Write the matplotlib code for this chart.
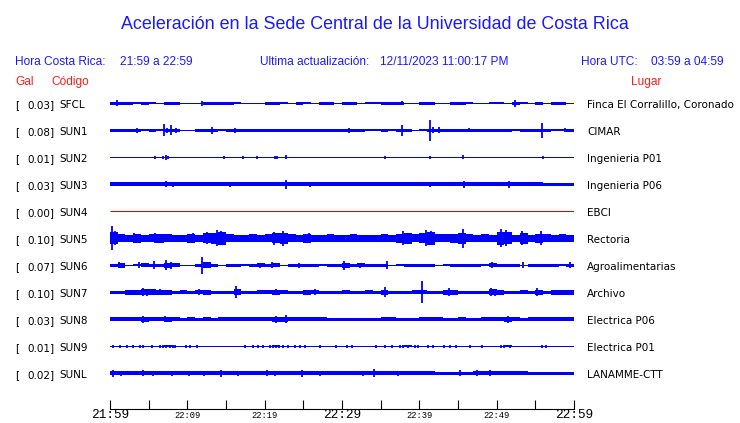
import numpy as np
import matplotlib
matplotlib.use("Agg")
import matplotlib.pyplot as plt

W, H = 740, 423

# ---------------- data ----------------
codes = ["SFCL", "SUN1", "SUN2", "SUN3", "SUN4", "SUN5", "SUN6", "SUN7", "SUN8", "SUN9", "SUNL"]
gal = ["0.03", "0.08", "0.01", "0.03", "0.00", "0.10", "0.07", "0.10", "0.03", "0.01", "0.02"]
places = ["Finca El Corralillo, Coronado", "CIMAR", "Ingenieria P01", "Ingenieria P06", "EBCI",
          "Rectoria", "Agroalimentarias", "Archivo", "Electrica P06", "Electrica P01", "LANAMME-CTT"]
trace_colors = ["#0000ff", "#0000ff", "#0000ff", "#0000ff", "#e00000", "#0000ff",
                "#0000ff", "#0000ff", "#0000ff", "#0000ff", "#0000ff"]

minutes = np.arange(61)  # 21:59 .. 22:59
tick_minutes = np.arange(0, 61, 5)
tick_labels = ["21:59", "", "22:09", "", "22:19", "", "22:29", "", "22:39", "", "22:49", "", "22:59"]
big_ticks = ["21:59", "22:29", "22:59"]

# per-minute envelope half-amplitude (px)
env_SFCL = [1.5,1.5,1.5,1.0,1.5,1.0,0.5,1.5,1.5,0.5, 0.8,0.5,1.5,1.5,1.2,1.2,1.0,0.5,0.8,0.5,
            1.2,1.2,1.0,0.5,1.2,1.0,0.5,1.2,1.2,0.8, 1.2,1.2,0.5,1.0,1.0,1.5,1.5,1.2,0.5,0.8,
            1.2,1.2,0.8,0.5,1.5,1.5,1.0,0.5,0.8,1.0, 1.0,0.5,1.5,1.0,0.5,1.2,0.5,1.2,1.2,0.5]
env_SUN1 = [1.5,1.5,1.5,1.2,1.0,1.2,1.0,1.5,1.5,0.8, 0.5,1.5,1.5,1.2,1.0,1.5,1.5,1.2,1.5,1.5,
            1.2,1.5,1.5,1.5,1.2,1.5,1.2,1.5,1.5,1.2, 1.5,1.5,1.5,1.0,1.0,1.2,1.0,1.5,1.5,0.8,
            1.0,1.5,1.2,1.2,1.5,1.2,1.5,1.2,1.5,1.5, 1.5,1.5,1.0,1.2,1.5,1.5,1.5,1.0,1.0,1.2]
env_SUN2 = [0.5,0.5,0.5,0.5,0.5,0.5,0.5,0.5,0.5,0.5, 0.5,0.5,0.5,0.5,0.5,0.5,0.5,0.5,0.5,0.5,
            0.5,0.5,0.5,0.5,0.5,0.5,0.5,0.5,0.5,0.5, 0.5,0.5,0.5,0.5,0.5,0.5,0.5,0.5,0.5,0.5,
            0.5,0.5,0.5,0.5,0.5,0.5,0.5,0.5,0.5,0.5, 0.5,0.5,0.5,0.5,0.5,0.5,0.5,0.5,0.5,0.5]
env_SUN3 = [2.0,2.0,2.0,2.0,2.0,2.0,2.0,2.0,2.0,2.0, 2.0,2.0,2.0,2.0,2.0,2.0,2.0,2.0,2.0,2.0,
            2.0,2.0,2.0,2.0,2.0,2.0,2.0,2.0,2.0,2.0, 2.0,2.0,2.0,2.0,2.0,2.0,2.0,2.0,2.0,2.0,
            2.0,2.0,2.0,2.0,2.0,2.0,2.0,2.0,2.0,2.0, 2.0,2.0,2.0,2.0,2.0,2.0,1.5,1.5,1.5,1.5]
env_SUN4 = [0.0,0.0,0.0,0.0,0.0,0.0,0.0,0.0,0.0,0.0, 0.0,0.0,0.0,0.0,0.0,0.0,0.0,0.0,0.0,0.0,
            0.0,0.0,0.0,0.0,0.0,0.0,0.0,0.0,0.0,0.0, 0.0,0.0,0.0,0.0,0.0,0.0,0.0,0.0,0.0,0.0,
            0.0,0.0,0.0,0.0,0.0,0.0,0.0,0.0,0.0,0.0, 0.0,0.0,0.0,0.0,0.0,0.0,0.0,0.0,0.0,0.0]
env_SUN5 = [6.0,4.0,3.5,4.5,3.5,4.0,4.5,4.0,3.5,3.5, 4.5,3.5,5.0,5.5,6.5,4.0,3.5,3.5,4.0,3.5,
            4.0,5.0,5.5,4.0,3.5,4.5,3.5,3.5,4.0,3.5, 3.5,4.0,3.5,3.5,3.5,4.0,3.5,4.5,5.5,4.0,
            5.0,6.5,4.0,4.0,4.5,5.5,4.0,3.5,4.0,3.5, 6.5,6.0,3.5,5.5,3.5,4.5,4.0,3.5,4.0,3.5]
env_SUN6 = [1.5,2.5,0.8,1.0,2.0,1.5,1.5,2.5,2.0,0.8, 0.8,1.5,3.0,1.5,0.8,1.5,1.5,1.0,1.5,2.0,
            1.5,2.0,0.8,1.5,1.5,1.5,1.5,1.0,1.5,1.5, 2.5,1.5,2.0,1.5,1.5,1.5,0.8,1.0,1.5,1.5,
            1.5,1.5,0.8,1.0,1.5,1.5,1.5,1.5,1.0,2.0, 1.5,1.5,1.5,0.8,1.5,1.5,1.5,1.5,1.0,1.5]
env_SUN7 = [1.5,1.5,2.5,2.5,3.0,3.0,2.5,2.5,1.5,2.0, 1.5,2.0,2.5,1.5,1.5,1.5,3.0,1.5,1.5,2.0,
            2.0,2.5,2.0,1.5,1.5,2.5,2.0,1.5,1.5,1.5, 2.0,1.5,1.5,2.0,1.5,2.5,1.5,1.5,1.5,2.0,
            2.0,1.5,1.5,2.5,2.5,1.5,1.5,1.5,1.5,3.0, 2.5,1.5,1.5,2.0,1.5,2.5,1.5,2.5,2.5,2.5]
env_SUN8 = [2.0,2.0,2.0,2.0,2.5,2.0,2.0,2.5,2.0,1.5, 2.0,1.5,2.0,1.5,2.0,2.0,2.0,2.0,2.0,2.0,
            2.0,2.5,2.5,2.0,2.0,2.0,2.0,2.0,1.5,1.5, 1.5,1.5,1.5,1.5,1.5,2.0,2.0,1.5,1.5,1.5,
            2.0,2.0,2.0,1.5,1.5,2.0,1.5,1.5,2.0,2.0, 2.0,2.5,2.0,1.5,2.0,2.0,2.0,2.0,2.0,2.0]
env_SUN9 = [0.5,0.5,0.5,0.5,0.5,0.5,0.5,1.0,0.5,0.5, 0.5,0.5,0.5,0.5,0.5,0.5,0.5,0.5,0.5,0.5,
            0.5,1.0,0.5,0.5,0.5,0.5,0.5,0.5,0.5,0.5, 0.5,0.5,0.5,0.5,0.5,0.5,0.5,0.5,1.0,0.5,
            0.5,0.5,0.5,0.5,0.5,0.5,0.5,0.5,0.5,0.5, 0.5,1.0,0.5,0.5,0.5,0.5,0.5,0.5,0.5,0.5]
env_SUNL = [2.0,2.0,2.0,2.0,2.0,2.0,2.0,2.0,2.0,2.0, 2.0,2.0,2.0,2.0,2.0,2.0,2.0,2.0,2.0,2.0,
            2.0,2.0,2.0,2.0,2.0,2.0,2.0,2.0,2.0,2.0, 2.0,2.0,2.0,2.0,2.0,2.0,2.0,2.0,2.0,2.0,
            2.0,2.0,1.5,1.5,1.5,1.5,1.5,2.0,2.0,2.0, 2.0,2.0,2.0,2.0,1.5,1.5,1.5,1.5,1.5,1.5]

# peaks: (minute, half-amplitude px)
peaks_SFCL = [(0.9, 3.0), (11.9, 2.5), (37.8, 2.0), (52.4, 3.5)]
peaks_SUN1 = [(3.5, 2.5), (7.0, 6.0), (7.4, 2.5), (7.9, 5.0), (8.5, 2.5), (13.2, 3.5), (16.2, 2.2),
              (30.9, 2.5), (37.8, 5.5), (41.4, 10.5), (41.8, 3.0), (42.6, 3.0), (46.4, 2.0),
              (55.9, 7.5), (58.9, 2.0)]
peaks_SUN2 = [(5.8, 1.5), (6.9, 1.5), (7.2, 2.5), (7.5, 1.5), (14.7, 1.5), (17.2, 1.5), (19.0, 1.5),
              (21.3, 1.5), (21.6, 1.5), (22.7, 2.0), (35.5, 1.5), (41.4, 1.5), (45.7, 2.0), (56.0, 1.5)]
peaks_SUN3 = [(7.2, 3.0), (8.2, 2.5), (15.5, 2.5), (22.7, 4.5), (25.8, 2.5), (41.4, 2.5),
              (45.8, 3.5), (51.6, 3.5)]
peaks_SUN4 = []
peaks_SUN5 = [(0.3, 12.0), (0.6, 7.0), (3.1, 5.0), (5.8, 5.0), (10.7, 5.0), (12.5, 6.0), (13.9, 8.0),
              (14.3, 7.0), (21.2, 6.5), (22.4, 7.5), (25.7, 5.0), (37.9, 7.0), (40.9, 8.0),
              (41.5, 7.0), (45.6, 9.5), (50.6, 9.0), (51.2, 8.0), (53.3, 7.0), (55.7, 7.0)]
peaks_SUN6 = [(1.1, 3.0), (3.8, 3.0), (5.7, 4.0), (7.2, 5.0), (7.9, 3.5), (11.9, 8.5), (12.4, 3.0),
              (19.4, 2.5), (21.0, 3.0), (24.5, 2.5), (30.3, 4.5), (32.3, 2.5), (35.8, 4.0),
              (49.4, 3.0), (53.4, 3.0), (59.5, 3.0)]
peaks_SUN7 = [(4.3, 4.0), (4.8, 3.5), (6.5, 3.0), (11.5, 3.0), (16.3, 6.0), (21.5, 3.0), (26.5, 3.0),
              (35.6, 5.0), (40.3, 11.0), (43.8, 4.0), (49.3, 4.0), (49.8, 3.5), (55.2, 4.0)]
peaks_SUN8 = [(4.3, 3.5), (7.1, 3.0), (21.5, 3.5), (22.7, 4.0), (51.5, 3.5)]
peaks_SUN9 = [(0.4, 1.5), (1.3, 1.5), (2.2, 1.5), (3.0, 1.5), (3.9, 1.5), (4.3, 1.5), (5.4, 1.5),
              (6.5, 1.5), (6.9, 1.5), (7.2, 1.5), (7.8, 1.5), (8.1, 1.5), (8.4, 1.5), (9.8, 1.5),
              (10.3, 1.5), (11.3, 1.5), (17.5, 1.5), (18.5, 1.5), (19.1, 1.5), (19.8, 1.5),
              (20.7, 1.5), (21.1, 1.5), (21.5, 1.5), (21.9, 1.5), (22.4, 1.5), (23.0, 1.5),
              (23.9, 1.5), (24.6, 1.5), (25.2, 1.5), (27.2, 1.5), (29.2, 1.5), (30.6, 1.5),
              (31.3, 1.5), (34.4, 1.5), (35.6, 1.5), (36.5, 1.5), (37.5, 1.5), (37.9, 1.5),
              (38.5, 1.5), (39.4, 1.5), (39.8, 1.5), (41.1, 1.5), (41.8, 1.5), (43.2, 1.5),
              (44.0, 1.5), (44.7, 1.5), (46.6, 1.5), (48.1, 1.5), (50.6, 1.5), (50.9, 1.5),
              (51.7, 1.5), (55.9, 1.5), (56.4, 1.5)]
peaks_SUNL = [(0.4, 3.5), (1.4, 2.5), (4.3, 3.0), (5.5, 2.5), (8.0, 2.5), (10.2, 2.5), (12.2, 2.5),
              (14.3, 3.5), (16.5, 2.5), (20.3, 3.0), (21.4, 2.5), (24.8, 3.5), (27.2, 2.5),
              (32.7, 2.5), (34.1, 4.0), (37.3, 2.5), (45.2, 3.0), (47.5, 3.0), (49.2, 3.0)]

envelopes = [env_SFCL, env_SUN1, env_SUN2, env_SUN3, env_SUN4, env_SUN5, env_SUN6,
             env_SUN7, env_SUN8, env_SUN9, env_SUNL]
peaks = [peaks_SFCL, peaks_SUN1, peaks_SUN2, peaks_SUN3, peaks_SUN4, peaks_SUN5, peaks_SUN6,
         peaks_SUN7, peaks_SUN8, peaks_SUN9, peaks_SUNL]

# ---------------- layout ----------------
BLUE_TXT = "#1a1aff"
RED_TXT = "#ff1a1a"
first_row, row_step = 103.5, 27.0
axis_row = 409

fig = plt.figure(figsize=(W / 100, H / 100), dpi=100)
fig.patch.set_facecolor("white")


def put(x, y, s, **kw):
    kw.setdefault("va", "baseline")
    fig.text(x / W, 1 - y / H, s, **kw)


ax = fig.add_axes([110 / W, 0, 464 / W, 1])
ax.set_xlim(minutes[0], minutes[-1])
ax.set_ylim(H, 0)
ax.patch.set_alpha(0)
for s in ("left", "right", "top"):
    ax.spines[s].set_visible(False)
ax.spines["bottom"].set_position(("data", axis_row))
ax.spines["bottom"].set_linewidth(0.8)
ax.set_yticks([])
ax.set_xticks(tick_minutes)
ax.set_xticklabels(tick_labels)
ax.tick_params(axis="x", direction="in", length=6.3, width=0.8, pad=4.6, colors="black")
for lab in ax.get_xticklabels():
    big = lab.get_text() in big_ticks
    lab.set_fontfamily("Liberation Mono")
    lab.set_fontsize(9.2 if big else 6.3)
    lab.set_va("center")

for i, code in enumerate(codes):
    c = first_row + i * row_step
    env = np.array(envelopes[i] + [envelopes[i][-1]])
    col = trace_colors[i]
    if env.max() > 0:
        ax.fill_between(minutes, c - env, c + env, step="post", color=col, lw=0)
    if peaks[i]:
        pm = [p[0] for p in peaks[i]]
        pa = np.array([p[1] for p in peaks[i]])
        ax.vlines(pm, c - pa, c + pa, color=col, lw=1.3)
    ax.hlines(c, minutes[0], minutes[-1], color=col, lw=0.72)

    yb = c + 4.3
    put(15, yb, "[", fontsize=7.5, family="DejaVu Sans")
    put(54.5, yb, gal[i] + "]", fontsize=7.5, family="DejaVu Sans", ha="right")
    put(59, yb, code, fontsize=7.5, family="DejaVu Sans")
    put(587, yb, places[i], fontsize=7.5, family="DejaVu Sans")

# headers
put(375, 29.3, "Aceleración en la Sede Central de la Universidad de Costa Rica",
    fontsize=12.9, family="Liberation Sans", color=BLUE_TXT, ha="center")
hdr = dict(fontsize=8.6, family="Liberation Sans", color=BLUE_TXT)
put(15, 65, "Hora Costa Rica:", **hdr)
put(120, 65, "21:59 a 22:59", **hdr)
put(260, 65, "Ultima actualización:", **hdr)
put(380, 65, "12/11/2023 11:00:17 PM", **hdr)
put(581, 65, "Hora UTC:", **hdr)
put(651, 65, "03:59 a 04:59", **hdr)
red = dict(fontsize=8.6, family="Liberation Sans", color=RED_TXT)
put(15, 85, "Gal", **red)
put(51, 85, "Código", **red)
put(631, 85, "Lugar", **red)

fig.savefig("out.png", dpi=100, facecolor="white")
